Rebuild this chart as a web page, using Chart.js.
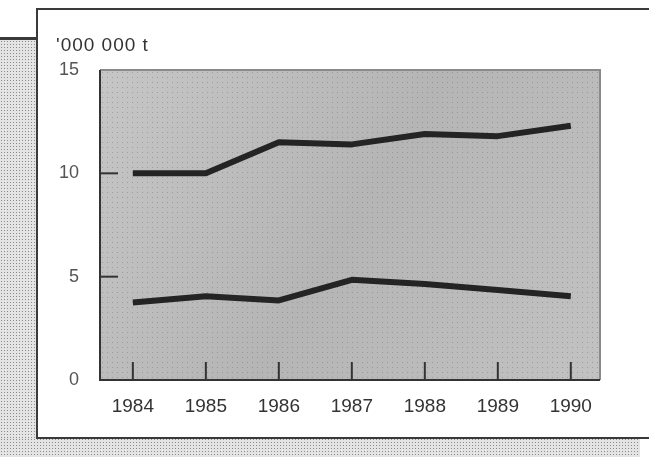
<!DOCTYPE html>
<html>
<head>
<meta charset="utf-8">
<script src="https://cdn.jsdelivr.net/npm/chart.js@4.4.1/dist/chart.umd.min.js"></script>
<style>
  html, body { margin: 0; padding: 0; background: #fff; }
  body { width: 649px; height: 457px; position: relative; overflow: hidden; font-family: "Liberation Sans", Arial, sans-serif; }
  .dots {
    position: absolute;
    background-color: #e4e4e4;
    background-image: radial-gradient(#8a8a8a 0.8px, transparent 1px);
    background-size: 3px 3px;
  }
  #leftStrip { left: 0; top: 40px; width: 37px; height: 417px; }
  #bottomStrip { left: 0; top: 438px; width: 640px; height: 19px; }
  #topLine { position: absolute; left: 0; top: 37px; width: 38px; height: 3px; background: #3a3a3a; }
  #frame {
    position: absolute; left: 36px; top: 8px; width: 640px; height: 431px;
    border: 2px solid #3a3a3a; box-sizing: border-box; background: #fff;
  }
  #unit { position: absolute; left: 18px; top: 25px; font-size: 19px; line-height: 19px; letter-spacing: 1px; color: #333; }
  #chartBox { position: absolute; left: 0; top: 0; width: 600px; height: 427px; }
</style>
</head>
<body>
<div class="dots" id="leftStrip"></div>
<div class="dots" id="bottomStrip"></div>
<div id="topLine"></div>
<div id="frame">
  <div id="chartBox"><canvas id="chart"></canvas></div>
  <div id="unit">'000 000 t</div>
</div>
<script>
const years = [1984, 1985, 1986, 1987, 1988, 1989, 1990];
const upperSeries = [10.0, 10.0, 11.5, 11.4, 11.9, 11.8, 12.3];
const lowerSeries = [3.75, 4.05, 3.85, 4.85, 4.65, 4.35, 4.05];
const yTicks = [0, 5, 10, 15];

const plotDecor = {
  id: "plotDecor",
  beforeDatasetsDraw(chart) {
    const { ctx, chartArea: a, scales } = chart;
    ctx.save();
    // textured grey plot background
    const g = ctx.createLinearGradient(a.left, a.top, a.right, a.bottom);
    g.addColorStop(0, "#c6c6c6");
    g.addColorStop(0.5, "#b5b5b5");
    g.addColorStop(1, "#c2c2c2");
    ctx.fillStyle = g;
    ctx.fillRect(a.left, a.top, a.right - a.left, a.bottom - a.top);
    ctx.fillStyle = "rgba(90,90,90,0.35)";
    for (let y = a.top + 2; y < a.bottom; y += 5) {
      for (let x = a.left + 2; x < a.right; x += 5) ctx.fillRect(x, y, 1, 1);
    }
    // frame of plot
    ctx.lineWidth = 2;
    ctx.strokeStyle = "#8a8a8a";
    ctx.beginPath();
    ctx.moveTo(a.left, a.top); ctx.lineTo(a.right, a.top); ctx.lineTo(a.right, a.bottom);
    ctx.stroke();
    ctx.strokeStyle = "#333";
    ctx.beginPath();
    ctx.moveTo(a.left, a.top); ctx.lineTo(a.left, a.bottom); ctx.lineTo(a.right, a.bottom);
    ctx.stroke();
    // inward tick marks
    yTicks.forEach(v => {
      if (v === 0 || v === 15) return;
      const y = scales.y.getPixelForValue(v);
      ctx.beginPath(); ctx.moveTo(a.left, y); ctx.lineTo(a.left + 18, y); ctx.stroke();
    });
    years.forEach(v => {
      const x = scales.x.getPixelForValue(v);
      ctx.beginPath(); ctx.moveTo(x, a.bottom); ctx.lineTo(x, a.bottom - 18); ctx.stroke();
    });
    ctx.restore();
  }
};

const lineStyle = { borderColor: "#242424", backgroundColor: "#242424", borderWidth: 6, pointRadius: 0, tension: 0, borderCapStyle: "butt", borderJoinStyle: "round" };

const ctx = document.getElementById("chart").getContext("2d");
new Chart(ctx, {
  type: "line",
  data: {
    datasets: [
      { ...lineStyle, data: years.map((y, i) => ({ x: y, y: upperSeries[i] })) },
      { ...lineStyle, data: years.map((y, i) => ({ x: y, y: lowerSeries[i] })) }
    ]
  },
  options: {
    responsive: true,
    maintainAspectRatio: false,
    animation: false,
    layout: { padding: { top: 60, right: 38, left: 0, bottom: 0 } },
    plugins: { legend: { display: false }, tooltip: { enabled: false } },
    scales: {
      x: {
        type: "linear",
        min: 1983.55,
        max: 1990.4,
        afterBuildTicks: s => { s.ticks = years.map(v => ({ value: v })); },
        afterFit: s => { s.height = 57; },
        grid: { display: false, drawTicks: false },
        border: { display: false },
        ticks: { padding: 15, color: "#333", font: { size: 19, family: "Liberation Sans" }, maxRotation: 0, callback: v => String(v) }
      },
      y: {
        min: 0,
        max: 15,
        afterBuildTicks: s => { s.ticks = yTicks.map(v => ({ value: v })); },
        afterFit: s => { s.width = 62; },
        grid: { display: false, drawTicks: false },
        border: { display: false },
        ticks: { padding: 21, color: "#555", font: { size: 18, family: "Liberation Sans" } }
      }
    }
  },
  plugins: [plotDecor]
});
</script>
</body>
</html>
